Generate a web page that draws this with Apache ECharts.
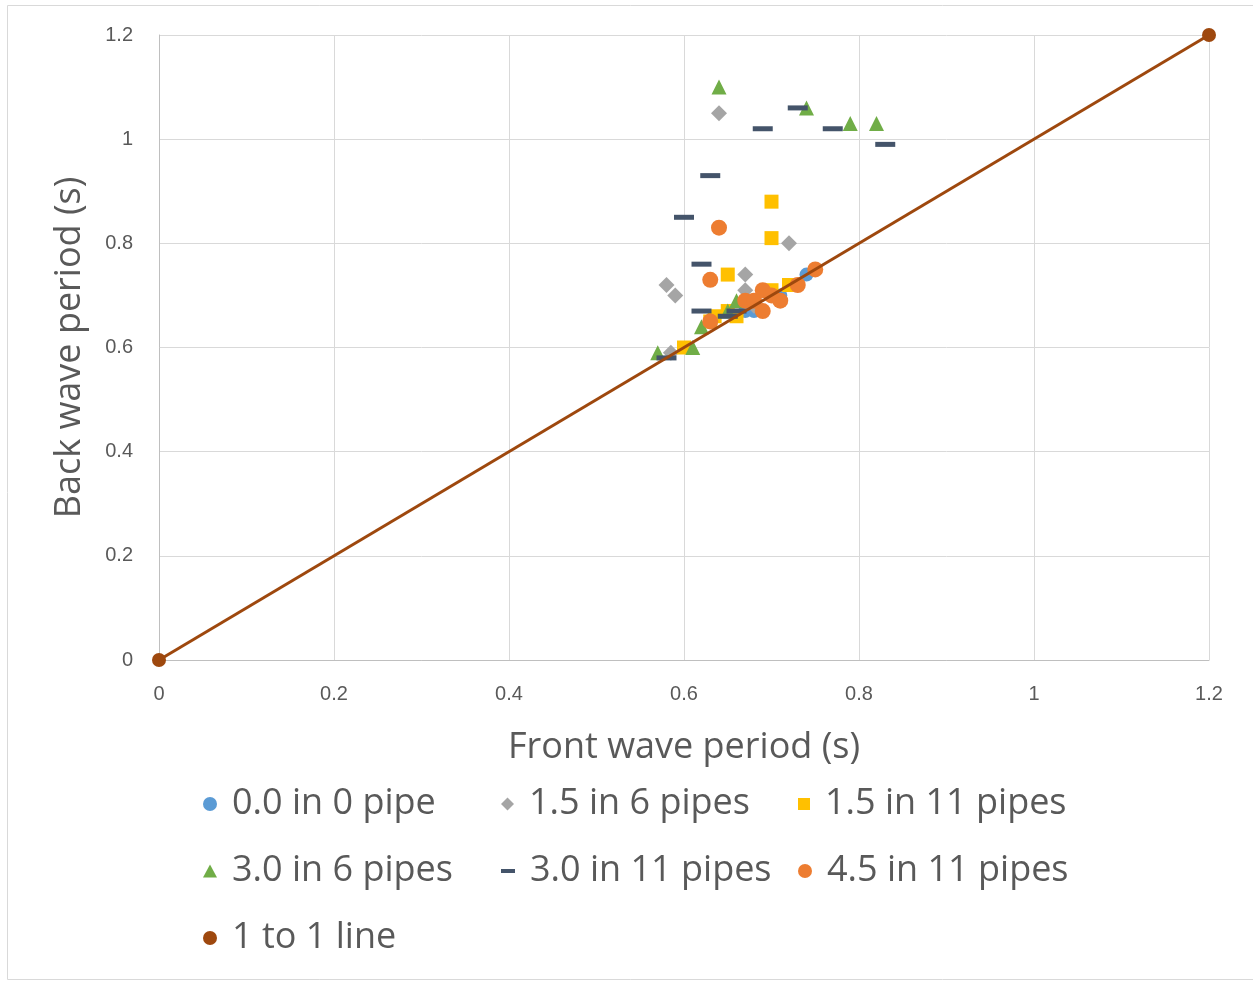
<!DOCTYPE html>
<html><head><meta charset="utf-8">
<script src="https://cdn.jsdelivr.net/npm/echarts@6/dist/echarts.min.js"></script>
<style>html,body{margin:0;padding:0;background:#fff}#c{width:1253px;height:981px}</style>
</head><body><div id="c"></div>
<script>
const seriesNames = ["0.0 in 0 pipe","1.5 in 6 pipes","1.5 in 11 pipes","3.0 in 6 pipes","3.0 in 11 pipes","4.5 in 11 pipes","1 to 1 line"];
const pipe0_0 = [[0.74,0.74],[0.67,0.67],[0.68,0.67],[0.71,0.70]];
const pipe1_5_6 = [[0.64,1.05],[0.72,0.80],[0.67,0.74],[0.58,0.72],[0.59,0.70],[0.67,0.71],[0.585,0.59],[0.68,0.68]];
const pipe1_5_11 = [[0.70,0.88],[0.70,0.81],[0.65,0.74],[0.60,0.60],[0.635,0.66],[0.65,0.67],[0.66,0.66],[0.70,0.71],[0.72,0.72],[0.63,0.65]];
const pipe3_0_6 = [[0.64,1.10],[0.74,1.06],[0.79,1.03],[0.82,1.03],[0.57,0.59],[0.61,0.60],[0.62,0.64],[0.66,0.69],[0.65,0.67]];
const pipe3_0_11 = [[0.73,1.06],[0.69,1.02],[0.77,1.02],[0.83,0.99],[0.63,0.93],[0.60,0.85],[0.62,0.76],[0.62,0.67],[0.65,0.66],[0.66,0.67],[0.58,0.58]];
const pipe4_5_11 = [[0.64,0.83],[0.63,0.73],[0.63,0.65],[0.67,0.69],[0.68,0.69],[0.69,0.71],[0.70,0.70],[0.71,0.69],[0.69,0.67],[0.73,0.72],[0.75,0.75]];
const oneToOne = [[0,0],[1.2,1.2]];

const colors = ["#5B9BD5","#A5A5A5","#FFC000","#70AD47","#44546A","#ED7D31","#9E480E"];
const symbols = ["circle","diamond","rect","triangle","rect","circle","circle"];
const sizes = [14,16,14,15,[20,5],16,14];
const legendSym = ["circle","diamond","rect","triangle","rect","circle","circle"];
const legendSize = [[14,14],[13,13],[12,12],[14,13],[14,4],[14,14],[14,14]];
const datas = [pipe0_0,pipe1_5_6,pipe1_5_11,pipe3_0_6,pipe3_0_11,pipe4_5_11];

const series = datas.map((d,i)=>({
  name: seriesNames[i], type:'scatter', data:d, symbol:symbols[i], symbolSize:sizes[i],
  itemStyle:{color:colors[i], opacity:1}, z:2+i
}));
series.push({name:seriesNames[6], type:'line', data:oneToOne, symbol:'circle', symbolSize:14,
  lineStyle:{color:colors[6], width:3}, itemStyle:{color:colors[6], opacity:1}, z:20});

const legPos = [[198,781],[496,781],[793,781],[198,848],[496,848],[793,848],[198,915]];
const legends = seriesNames.map((n,i)=>({
  data:[{name:n, icon:legendSym[i]}], left:legPos[i][0], top:legPos[i][1],
  itemWidth:legendSize[i][0], itemHeight:legendSize[i][1], itemGap:10,
  textStyle:{fontSize:36, color:'#595959', fontFamily:'Open Sans', padding:[0,0,0,10]},
  selectedMode:false
}));

const chart = echarts.init(document.getElementById('c'));
chart.setOption({
  animation:false,
  graphic:[{type:'rect', shape:{x:7.5,y:5.5,width:1260,height:974}, style:{fill:'none', stroke:'#D9D9D9', lineWidth:1}}],
  grid:{left:159, right:44, top:35, bottom:321},
  xAxis:{type:'value', min:0, max:1.2, interval:0.2,
    name:'Front wave period (s)', nameLocation:'middle', nameGap:70,
    nameTextStyle:{fontSize:36, color:'#595959', fontFamily:'Open Sans'},
    axisLine:{lineStyle:{color:'#BFBFBF'}}, axisTick:{show:false},
    axisLabel:{fontSize:20, color:'#595959', margin:24, formatter:v=>String(+v.toFixed(1))},
    splitLine:{lineStyle:{color:'#D9D9D9', width:1}}},
  yAxis:{type:'value', min:0, max:1.2, interval:0.2,
    name:'Back wave period (s)', nameLocation:'middle', nameGap:71,
    nameTextStyle:{fontSize:36, color:'#595959', fontFamily:'Open Sans'},
    axisLine:{show:true, lineStyle:{color:'#BFBFBF'}}, axisTick:{show:false},
    axisLabel:{fontSize:20, color:'#595959', margin:26, formatter:v=>String(+v.toFixed(1))},
    splitLine:{lineStyle:{color:'#D9D9D9', width:1}}},
  legend: legends,
  series: series
});
</script></body></html>
